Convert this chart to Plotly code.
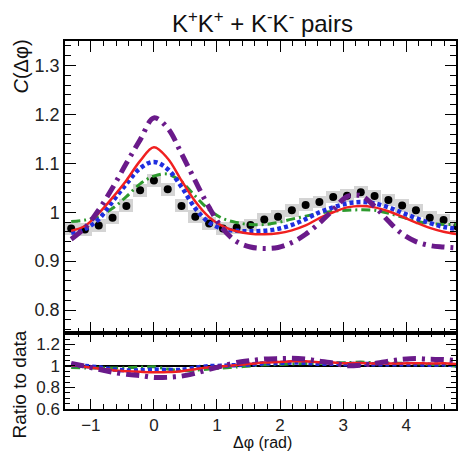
import plotly.graph_objects as go

# ---- data ----
dphi = [-1.312, -1.094, -0.875, -0.656, -0.437, -0.219, 0.0, 0.219, 0.437, 0.656,
        0.875, 1.094, 1.312, 1.531, 1.750, 1.968, 2.187, 2.406, 2.624, 2.843,
        3.062, 3.280, 3.499, 3.718, 3.936, 4.155, 4.374, 4.593, 4.811]
data = [0.967, 0.965, 0.973, 0.989, 1.013, 1.045, 1.065, 1.047, 1.013, 0.991,
        0.977, 0.967, 0.969, 0.974, 0.985, 0.991, 1.004, 1.015, 1.021, 1.031,
        1.034, 1.041, 1.033, 1.025, 1.014, 1.004, 0.989, 0.984, 0.971]
syst = [0.013] * len(dphi)
red = [0.962, 0.972, 0.998, 1.030, 1.065, 1.105, 1.133, 1.110, 1.065, 1.022,
       0.990, 0.971, 0.961, 0.956, 0.955, 0.957, 0.963, 0.973, 0.988, 1.000,
       1.010, 1.013, 1.010, 1.002, 0.991, 0.979, 0.968, 0.960, 0.955]
blue = [0.958, 0.966, 0.986, 1.022, 1.058, 1.090, 1.103, 1.088, 1.052, 1.008,
        0.979, 0.966, 0.962, 0.961, 0.962, 0.966, 0.974, 0.986, 1.000, 1.010,
        1.018, 1.021, 1.018, 1.010, 0.999, 0.988, 0.978, 0.970, 0.966]
green = [0.981, 0.984, 0.992, 1.008, 1.032, 1.058, 1.074, 1.078, 1.062, 1.033,
         1.005, 0.987, 0.979, 0.975, 0.975, 0.979, 0.986, 0.992, 0.998, 1.002,
         1.004, 1.005, 1.004, 0.998, 0.990, 0.982, 0.977, 0.975, 0.975]
purple = [0.945, 0.968, 1.005, 1.050, 1.100, 1.148, 1.193, 1.172, 1.120, 1.064,
          1.010, 0.966, 0.940, 0.929, 0.926, 0.928, 0.938, 0.955, 0.978, 1.005,
          1.032, 1.034, 1.012, 0.982, 0.956, 0.940, 0.932, 0.929, 0.927]
bin_width = 0.2187

W, H = 460, 458
FONT = "Liberation Sans, Arial, Helvetica, sans-serif"

def px_x(p):
    return p / W

def px_y(p):
    return 1 - p / H

models = [
    (green, "#2e9a2e", 3, "9px,4px,2px,4px"),
    (blue, "#1f2ee0", 4.5, "4px,3px"),
    (red, "#f02020", 2.5, "solid"),
    (purple, "#6a1a8a", 5, "13px,6px,3px,6px"),
]

fig = go.Figure()

# systematic boxes
fig.add_trace(go.Bar(
    x=dphi, y=[2 * s for s in syst], base=[d - s for d, s in zip(data, syst)],
    width=bin_width, marker=dict(color="#d4d4d4", line=dict(width=0)),
    xaxis="x", yaxis="y", showlegend=False, hoverinfo="skip"))
# data points
fig.add_trace(go.Scatter(
    x=dphi, y=data, mode="markers",
    marker=dict(color="black", size=8, symbol="circle"),
    xaxis="x", yaxis="y", showlegend=False))

for vals, col, lw, dash in models:
    fig.add_trace(go.Scatter(
        x=dphi, y=vals, mode="lines",
        line=dict(color=col, width=lw, dash=dash, shape="spline", smoothing=1.0),
        xaxis="x", yaxis="y", showlegend=False))

# ratio panel
fig.add_trace(go.Scatter(
    x=[dphi[0] - 0.2, dphi[-1] + 0.2], y=[1, 1], mode="lines",
    line=dict(color="black", width=2), xaxis="x2", yaxis="y2", showlegend=False))
for vals, col, lw, dash in models:
    ratio = [d / m for d, m in zip(data, vals)]
    fig.add_trace(go.Scatter(
        x=dphi, y=ratio, mode="lines",
        line=dict(color=col, width=lw, dash=dash, shape="spline", smoothing=0.6),
        xaxis="x2", yaxis="y2", showlegend=False))

xdom = [px_x(65), px_x(456)]
xrange = [-1.41, 4.79]
common_ax = dict(
    showline=True, linecolor="black", linewidth=1.5, mirror="ticks",
    ticks="inside", tickcolor="black", tickwidth=1.2, showgrid=False, zeroline=False,
    tickfont=dict(family=FONT, size=18, color="#222"),
)

fig.update_layout(
    width=W, height=H, autosize=False,
    margin=dict(l=0, r=0, t=0, b=0, pad=0),
    paper_bgcolor="white", plot_bgcolor="white",
    bargap=0,
    xaxis=dict(domain=xdom, range=xrange, anchor="y", showticklabels=False,
               dtick=1, tick0=0, ticklen=11,
               minor=dict(dtick=0.2, ticks="inside", ticklen=5, tickcolor="black", showgrid=False),
               **common_ax),
    yaxis=dict(domain=[px_y(340), px_y(42)], range=[0.754, 1.35], anchor="x",
               dtick=0.1, tick0=0, ticklen=11,
               minor=dict(dtick=0.02, ticks="inside", ticklen=6, tickcolor="black", showgrid=False),
               **common_ax),
    xaxis2=dict(domain=xdom, range=xrange, anchor="y2",
                dtick=1, tick0=0, ticklen=10,
                minor=dict(dtick=0.2, ticks="inside", ticklen=5, tickcolor="black", showgrid=False),
                **common_ax),
    yaxis2=dict(domain=[px_y(418), px_y(340)], range=[0.6, 1.31], anchor="x2",
                dtick=0.2, tick0=0, ticklen=10,
                minor=dict(dtick=0.05, ticks="inside", ticklen=5, tickcolor="black", showgrid=False),
                **common_ax),
)
fig.update_layout(yaxis2_tickfont=dict(family=FONT, size=17, color="#222"),
                  xaxis2_tickfont=dict(family=FONT, size=17, color="#222"))

ann = dict(xref="paper", yref="paper", showarrow=False)
fig.add_annotation(text="K<sup>+</sup>K<sup>+</sup> + K<sup>-</sup>K<sup>-</sup> pairs",
                   x=px_x(262), y=px_y(22), xanchor="center", yanchor="middle",
                   font=dict(family=FONT, size=24, color="#111"), **ann)
fig.add_annotation(text="<i>C</i>(Δφ)", x=px_x(21), y=px_y(68), textangle=-90,
                   xanchor="center", yanchor="middle",
                   font=dict(family=FONT, size=20, color="#111"), **ann)
fig.add_annotation(text="Ratio to data", x=px_x(19), y=px_y(393), textangle=-90,
                   xanchor="center", yanchor="middle",
                   font=dict(family=FONT, size=19, color="#111"), **ann)
fig.add_annotation(text="Δφ (rad)", x=px_x(262), y=px_y(452),
                   xanchor="center", yanchor="middle",
                   font=dict(family=FONT, size=16, color="#111"), **ann)

fig.write_html(
    "out.html",
    config={"displayModeBar": False},
    post_script=(
        "var s=document.createElement('style');"
        "s.textContent='html,body{margin:0;padding:0;overflow:hidden;}';"
        "document.head.appendChild(s);"
    ),
)
